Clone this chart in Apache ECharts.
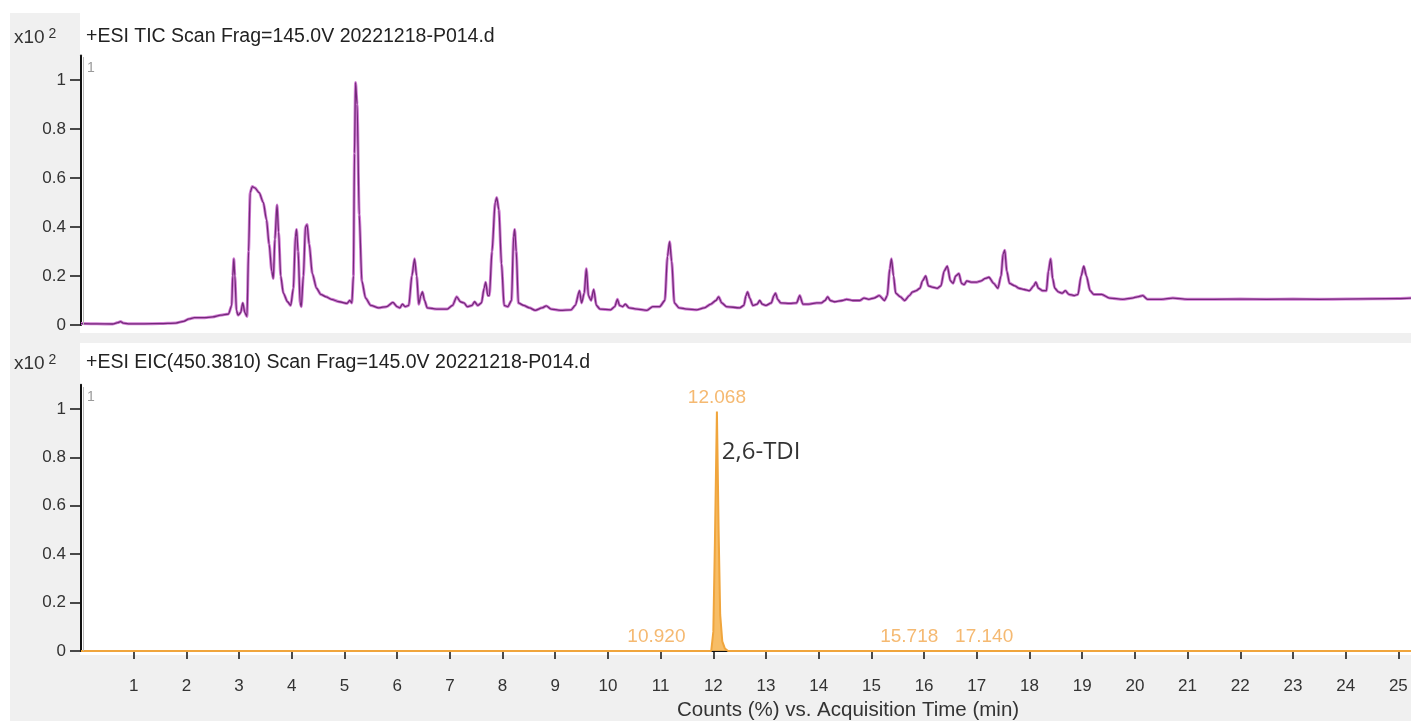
<!DOCTYPE html>
<html><head><meta charset="utf-8">
<script src="https://cdn.jsdelivr.net/npm/echarts@6/dist/echarts.min.js"></script>
<style>html,body{margin:0;padding:0;background:#fff}#c{width:1411px;height:721px}</style>
</head><body><div id="c"></div>
<script>
// ---- Data ----
const ticTimes = [0.00,0.30,0.60,0.70,0.75,0.80,0.90,1.20,1.50,1.80,1.95,2.05,2.15,2.35,2.50,2.65,2.80,2.86,2.88,2.90,2.92,2.95,2.98,3.03,3.07,3.11,3.15,3.18,3.21,3.25,3.30,3.38,3.46,3.52,3.57,3.62,3.65,3.68,3.72,3.75,3.79,3.84,3.92,3.98,4.03,4.07,4.09,4.12,4.16,4.18,4.22,4.26,4.29,4.33,4.39,4.47,4.55,4.65,4.75,4.90,5.05,5.10,5.14,5.17,5.19,5.21,5.24,5.28,5.33,5.40,5.50,5.65,5.80,5.92,6.00,6.05,6.10,6.15,6.22,6.28,6.33,6.37,6.41,6.45,6.48,6.52,6.57,6.75,6.95,7.05,7.13,7.20,7.27,7.33,7.42,7.47,7.53,7.60,7.65,7.68,7.72,7.75,7.80,7.86,7.89,7.93,7.98,8.03,8.10,8.17,8.21,8.23,8.26,8.30,8.40,8.51,8.62,8.75,8.83,8.92,9.10,9.30,9.38,9.46,9.50,9.55,9.59,9.63,9.68,9.73,9.78,9.85,10.05,10.13,10.18,10.22,10.28,10.33,10.40,10.55,10.74,10.85,10.98,11.08,11.13,11.17,11.21,11.26,11.35,11.50,11.68,11.83,11.95,12.05,12.10,12.16,12.25,12.50,12.58,12.62,12.65,12.69,12.75,12.83,12.88,12.93,13.00,13.10,13.15,13.18,13.22,13.28,13.45,13.58,13.64,13.70,13.80,13.96,14.05,14.12,14.17,14.22,14.30,14.45,14.53,14.65,14.78,14.86,14.95,15.05,15.15,15.25,15.30,15.35,15.38,15.42,15.46,15.55,15.63,15.72,15.78,15.85,15.92,15.97,16.03,16.08,16.15,16.25,16.32,16.38,16.44,16.50,16.55,16.60,16.66,16.71,16.76,16.81,16.90,17.00,17.08,17.16,17.23,17.32,17.40,17.46,17.50,17.53,17.57,17.62,17.72,17.80,17.90,18.00,18.08,18.12,18.17,18.25,18.32,18.36,18.40,18.44,18.48,18.55,18.62,18.68,18.75,18.85,18.92,18.98,19.03,19.08,19.15,19.22,19.37,19.52,19.77,19.95,20.05,20.15,20.24,20.50,20.72,21.00,21.50,22.00,22.50,23.00,23.50,24.00,24.50,25.00,25.24];
const ticValues = [0.006,0.005,0.004,0.010,0.014,0.008,0.005,0.005,0.006,0.008,0.015,0.025,0.030,0.030,0.033,0.040,0.045,0.080,0.200,0.270,0.200,0.060,0.040,0.050,0.090,0.050,0.035,0.300,0.540,0.565,0.560,0.540,0.500,0.430,0.330,0.220,0.190,0.350,0.490,0.380,0.200,0.130,0.095,0.080,0.150,0.360,0.390,0.300,0.090,0.075,0.200,0.400,0.410,0.330,0.210,0.150,0.125,0.115,0.105,0.095,0.088,0.100,0.090,0.200,0.700,0.990,0.900,0.450,0.180,0.110,0.080,0.070,0.075,0.092,0.075,0.070,0.085,0.075,0.080,0.200,0.270,0.200,0.085,0.120,0.135,0.100,0.070,0.065,0.065,0.080,0.115,0.095,0.090,0.075,0.080,0.095,0.080,0.090,0.150,0.175,0.120,0.120,0.300,0.500,0.520,0.470,0.250,0.080,0.075,0.100,0.360,0.390,0.300,0.090,0.080,0.070,0.060,0.070,0.078,0.065,0.060,0.062,0.080,0.140,0.090,0.130,0.230,0.120,0.100,0.145,0.080,0.065,0.062,0.075,0.105,0.080,0.075,0.085,0.070,0.065,0.060,0.075,0.075,0.100,0.280,0.340,0.260,0.090,0.070,0.065,0.062,0.070,0.085,0.100,0.115,0.090,0.075,0.070,0.080,0.120,0.135,0.110,0.080,0.085,0.100,0.085,0.080,0.090,0.120,0.130,0.105,0.090,0.088,0.090,0.120,0.085,0.085,0.090,0.090,0.100,0.115,0.100,0.095,0.100,0.105,0.100,0.100,0.110,0.105,0.110,0.120,0.100,0.120,0.230,0.270,0.200,0.130,0.115,0.100,0.120,0.135,0.140,0.150,0.180,0.200,0.160,0.155,0.150,0.160,0.220,0.240,0.180,0.170,0.200,0.210,0.170,0.165,0.180,0.175,0.175,0.180,0.190,0.195,0.170,0.150,0.200,0.290,0.305,0.220,0.170,0.160,0.150,0.145,0.140,0.160,0.175,0.150,0.140,0.140,0.220,0.270,0.190,0.150,0.135,0.130,0.140,0.125,0.120,0.125,0.200,0.240,0.200,0.140,0.125,0.125,0.110,0.105,0.110,0.115,0.120,0.105,0.105,0.110,0.105,0.105,0.106,0.105,0.106,0.105,0.106,0.107,0.108,0.110];

const eicTimes = [0.00,10.90,10.92,10.95,11.96,12.00,12.03,12.068,12.10,12.13,12.17,12.22,12.28,15.70,15.718,15.74,17.12,17.14,17.16,25.24];
const eicValues = [0.000,0.000,0.003,0.000,0.000,0.080,0.450,0.990,0.500,0.150,0.040,0.010,0.000,0.000,0.002,0.000,0.000,0.002,0.000,0.000];

const peakTimes = [10.920, 12.068, 15.718, 17.140];
const peakHeights = [0.003, 0.990, 0.002, 0.002];

const xTickValues = [1,2,3,4,5,6,7,8,9,10,11,12,13,14,15,16,17,18,19,20,21,22,23,24,25];
const yTickValues = [0,0.2,0.4,0.6,0.8,1];

const panelTitles = ['+ESI TIC Scan Frag=145.0V 20221218-P014.d', '+ESI EIC(450.3810) Scan Frag=145.0V 20221218-P014.d'];
const xAxisTitle = 'Counts (%) vs. Acquisition Time (min)';
const compoundName = '2,6-TDI';
const compoundPos = [12.16, 0.82];

// ---- Chart ----
const zip = (a, b) => a.map((v, i) => [v, b[i]]);
const FONT = "'Liberation Sans',Arial,sans-serif";
const chart = echarts.init(document.getElementById('c'), null, {renderer: 'canvas'});

function yAxisCfg(gi, max) {
  return {
    gridIndex: gi, type: 'value', min: 0, max: max,
    axisLine: {show: true, lineStyle: {color: '#111', width: 2}},
    axisTick: {show: true, customValues: yTickValues, length: 11, lineStyle: {color: '#111', width: 1.5}},
    axisLabel: {customValues: yTickValues, color: '#333', fontSize: 17, fontFamily: FONT, margin: 15,
      formatter: v => (v === 0 || v === 1) ? String(v) : v.toFixed(1)},
    splitLine: {show: false}
  };
}

const option = {
  animation: false,
  backgroundColor: '#ffffff',
  grid: [
    {left: 81, top: 55.5, width: 1330, height: 269.5},
    {left: 81, top: 384.8, width: 1330, height: 266.2}
  ],
  xAxis: [
    {gridIndex: 0, type: 'value', min: 0, max: 25.24, axisLine: {show: false}, axisTick: {show: false}, axisLabel: {show: false}, splitLine: {show: false}},
    {gridIndex: 1, type: 'value', min: 0, max: 25.24, offset: 7,
      axisLine: {show: true, lineStyle: {color: '#111', width: 2}},
      axisTick: {show: true, customValues: xTickValues, length: 8, lineStyle: {color: '#111', width: 1.5}},
      axisLabel: {customValues: xTickValues, color: '#333', fontSize: 17, fontFamily: FONT, margin: 20},
      splitLine: {show: false}}
  ],
  yAxis: [yAxisCfg(0, 1.1), yAxisCfg(1, 1.1)],
  series: [
    {type: 'line', xAxisIndex: 0, yAxisIndex: 0, data: zip(ticTimes, ticValues), showSymbol: false, clip: false,
      smooth: 0.25, smoothMonotone: 'x', lineStyle: {color: '#d27fd5', width: 3}, z: 2},
    {type: 'line', xAxisIndex: 0, yAxisIndex: 0, data: zip(ticTimes, ticValues), showSymbol: false, clip: false,
      smooth: 0.25, smoothMonotone: 'x', lineStyle: {color: '#74297a', width: 1.3}, z: 3},
    {type: 'line', xAxisIndex: 1, yAxisIndex: 1, data: zip(eicTimes, eicValues), showSymbol: false, clip: false,
      lineStyle: {color: '#f0a53c', width: 2}, areaStyle: {color: '#f6b655', opacity: 0.9}, z: 3},
    {type: 'scatter', xAxisIndex: 1, yAxisIndex: 1, data: zip(peakTimes, peakHeights), symbolSize: 0, silent: true,
      label: {show: true, position: 'top', distance: 4, formatter: p => p.value[0].toFixed(3), color: '#f2a84e', fontSize: 19, fontFamily: FONT}, z: 4},
    {type: 'scatter', xAxisIndex: 1, yAxisIndex: 1, data: [compoundPos], symbolSize: 0, silent: true,
      label: {show: true, position: 'right', distance: 0, formatter: compoundName, color: '#000', fontSize: 24, fontFamily: "'Open Sans','Noto Sans',sans-serif"}, z: 4}
  ],
  graphic: [
    {type: 'rect', z: -100, silent: true, shape: {x: 10, y: 13, width: 1401, height: 708}, style: {fill: '#f0f0f0'}},
    {type: 'rect', z: -99, silent: true, shape: {x: 80, y: 13, width: 1331, height: 320}, style: {fill: '#ffffff'}},
    {type: 'rect', z: -99, silent: true, shape: {x: 80, y: 343, width: 1331, height: 312}, style: {fill: '#ffffff'}},
    {type: 'line', z: 5, silent: true, shape: {x1: 83.5, y1: 57, x2: 83.5, y2: 325}, style: {stroke: '#b8b8b8', lineWidth: 1}},
    {type: 'line', z: 5, silent: true, shape: {x1: 83.5, y1: 387, x2: 83.5, y2: 651}, style: {stroke: '#b8b8b8', lineWidth: 1}},
    {type: 'text', z: 5, left: 14, top: 27, style: {text: '{a|x10}{b| 2}', rich: {a: {fontSize: 19, fontFamily: FONT, fill: '#333'}, b: {fontSize: 14, fontFamily: FONT, fill: '#333', verticalAlign: 'top', padding: [0,0,7,0]}}}},
    {type: 'text', z: 5, left: 14, top: 353, style: {text: '{a|x10}{b| 2}', rich: {a: {fontSize: 19, fontFamily: FONT, fill: '#333'}, b: {fontSize: 14, fontFamily: FONT, fill: '#333', verticalAlign: 'top', padding: [0,0,7,0]}}}},
    {type: 'text', z: 5, left: 86, top: 27, style: {text: panelTitles[0], fontSize: 19.5, fontFamily: FONT, fill: '#222'}},
    {type: 'text', z: 5, left: 86, top: 353, style: {text: panelTitles[1], fontSize: 19.5, fontFamily: FONT, fill: '#222'}},
    {type: 'text', z: 5, left: 87, top: 61, style: {text: '1', fontSize: 14, fontFamily: FONT, fill: '#9a9a9a'}},
    {type: 'text', z: 5, left: 87, top: 390, style: {text: '1', fontSize: 14, fontFamily: FONT, fill: '#9a9a9a'}},
    {type: 'text', z: 5, left: 677, top: 700, style: {text: xAxisTitle, fontSize: 20.5, fontFamily: FONT, fill: '#333'}}
  ]
};
chart.setOption(option);
</script></body></html>
